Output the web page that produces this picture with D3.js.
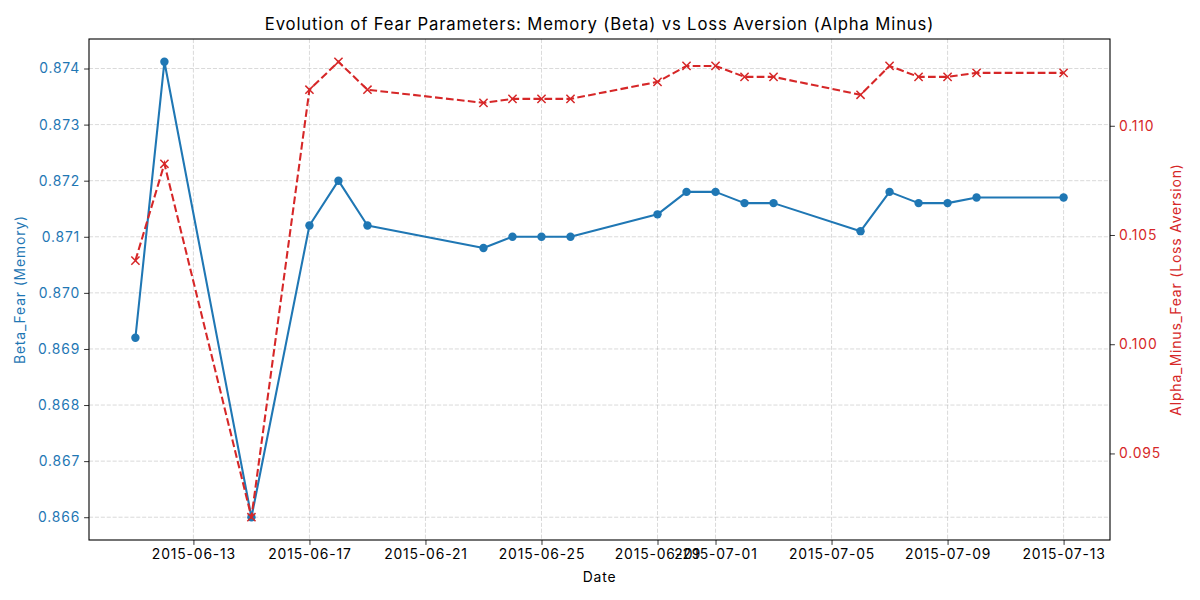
<!DOCTYPE html>
<html>
<head>
<meta charset="utf-8">
<script src="https://cdn.jsdelivr.net/npm/d3@7"></script>
<style>
  html, body { margin: 0; padding: 0; background: #fff; }
  svg { display: block; font-family: "Inter", "Lato", sans-serif; }
  svg text { letter-spacing: 0.85px; }
</style>
</head>
<body>
<svg id="chart" width="1200" height="600"></svg>
<script>
const dates = ["2015-06-11","2015-06-12","2015-06-15","2015-06-17","2015-06-18","2015-06-19",
  "2015-06-23","2015-06-24","2015-06-25","2015-06-26","2015-06-29","2015-06-30","2015-07-01",
  "2015-07-02","2015-07-03","2015-07-06","2015-07-07","2015-07-08","2015-07-09","2015-07-10","2015-07-13"];
const betaFear = [0.8692,0.87412,0.8660,0.8712,0.8720,0.8712,0.8708,0.8710,0.8710,0.8710,
  0.8714,0.8718,0.8718,0.8716,0.8716,0.8711,0.8718,0.8716,0.8716,0.8717,0.8717];
const alphaMinusFear = [0.10383,0.10826,0.09208,0.11165,0.11293,0.11165,0.11105,0.11123,0.11123,0.11123,
  0.11201,0.11274,0.11274,0.11224,0.11224,0.11142,0.11274,0.11224,0.11224,0.11242,0.11242];
const xTickLabels = ["2015-06-13","2015-06-17","2015-06-21","2015-06-25","2015-06-29","2015-07-01",
  "2015-07-05","2015-07-09","2015-07-13"];
const leftTicks = [0.866,0.867,0.868,0.869,0.870,0.871,0.872,0.873,0.874];
const rightTicks = [0.095,0.100,0.105,0.110];

const BLUE = "#1f77b4", RED = "#d62728";
const FONT = '"Inter", "Lato", sans-serif';
const m = {left: 89, right: 1110, top: 39, bottom: 540};
const svg = d3.select("#chart");

const parse = d3.utcParse("%Y-%m-%d");
const xd = dates.map(parse);

function padded(ext) { const r = ext[1]-ext[0]; return [ext[0]-0.05*r, ext[1]+0.05*r]; }
const xExt = d3.extent(xd);
const xSpan = xExt[1]-xExt[0];
const x = d3.scaleUtc().domain([new Date(+xExt[0]-0.05*xSpan), new Date(+xExt[1]+0.05*xSpan)]).range([m.left, m.right]);
const yL = d3.scaleLinear().domain(padded(d3.extent(betaFear))).range([m.bottom, m.top]);
const yR = d3.scaleLinear().domain(padded(d3.extent(alphaMinusFear))).range([m.bottom, m.top]);

const xTicks = xTickLabels.map(parse);

// grid
const grid = svg.append("g").attr("stroke", "#b0b0b0").attr("stroke-opacity", 0.6)
  .attr("stroke-width", 0.8).attr("stroke-dasharray", "4.1,1.8");
grid.selectAll("line.v").data(xTicks).enter().append("line")
  .attr("x1", d => x(d)).attr("x2", d => x(d)).attr("y1", m.top).attr("y2", m.bottom);
grid.selectAll("line.h").data(leftTicks).enter().append("line")
  .attr("y1", d => yL(d)).attr("y2", d => yL(d)).attr("x1", m.left).attr("x2", m.right);

// axes
const fmtDate = d3.utcFormat("%Y-%m-%d");
const xAxis = svg.append("g").attr("transform", `translate(0,${m.bottom})`)
  .call(d3.axisBottom(x).tickValues(xTicks).tickFormat(fmtDate).tickSizeOuter(0).tickSize(4.9).tickPadding(4));
const yAxisL = svg.append("g").attr("transform", `translate(${m.left},0)`)
  .call(d3.axisLeft(yL).tickValues(leftTicks).tickFormat(d3.format(".3f")).tickSizeOuter(0).tickSize(4.9).tickPadding(4));
const yAxisR = svg.append("g").attr("transform", `translate(${m.right},0)`)
  .call(d3.axisRight(yR).tickValues(rightTicks).tickFormat(d3.format(".3f")).tickSizeOuter(0).tickSize(4.9).tickPadding(4));
[xAxis, yAxisL, yAxisR].forEach(g => {
  g.select(".domain").remove();
  g.selectAll("text").attr("font-size", 13.9).attr("font-family", FONT);
  g.selectAll("line").attr("stroke", "#000").attr("stroke-width", 0.8);
});
xAxis.selectAll("text").attr("fill", "#000");
yAxisL.selectAll("text").attr("fill", BLUE);
yAxisR.selectAll("text").attr("fill", RED);

// blue series
const lineL = d3.line().x((d,i) => x(xd[i])).y(d => yL(d));
svg.append("path").datum(betaFear).attr("d", lineL).attr("fill", "none")
  .attr("stroke", BLUE).attr("stroke-width", 2.08).attr("stroke-linejoin", "round");
svg.append("g").selectAll("circle").data(betaFear).enter().append("circle")
  .attr("cx", (d,i) => x(xd[i])).attr("cy", d => yL(d)).attr("r", 4.2).attr("fill", BLUE);

// red series
const lineR = d3.line().x((d,i) => x(xd[i])).y(d => yR(d));
svg.append("path").datum(alphaMinusFear).attr("d", lineR).attr("fill", "none")
  .attr("stroke", RED).attr("stroke-width", 2.08).attr("stroke-dasharray", "7.7,3.3");
const s = 4.1;
svg.append("g").selectAll("path").data(alphaMinusFear).enter().append("path")
  .attr("d", (d,i) => { const cx = x(xd[i]), cy = yR(d);
    return `M${cx-s},${cy-s}L${cx+s},${cy+s}M${cx-s},${cy+s}L${cx+s},${cy-s}`; })
  .attr("stroke", RED).attr("stroke-width", 1.5).attr("fill", "none");

// frame
svg.append("rect").attr("x", m.left).attr("y", m.top).attr("width", m.right-m.left).attr("height", m.bottom-m.top)
  .attr("fill", "none").attr("stroke", "#000").attr("stroke-width", 1.1);

// labels
svg.append("text").attr("x", (m.left+m.right)/2).attr("y", 30).attr("text-anchor", "middle")
  .attr("font-size", 16.7).attr("fill", "#000")
  .text("Evolution of Fear Parameters: Memory (Beta) vs Loss Aversion (Alpha Minus)");
svg.append("text").attr("x", (m.left+m.right)/2).attr("y", 582).attr("text-anchor", "middle")
  .attr("font-size", 13.9).attr("fill", "#000").text("Date");
svg.append("text").attr("transform", `translate(25,${(m.top+m.bottom)/2}) rotate(-90)`)
  .attr("text-anchor", "middle").attr("font-size", 13.9).attr("fill", BLUE).text("Beta_Fear (Memory)");
svg.append("text").attr("transform", `translate(1181,${(m.top+m.bottom)/2}) rotate(-90)`)
  .attr("text-anchor", "middle").attr("font-size", 13.9).attr("fill", RED).text("Alpha_Minus_Fear (Loss Aversion)");
</script>
</body>
</html>
